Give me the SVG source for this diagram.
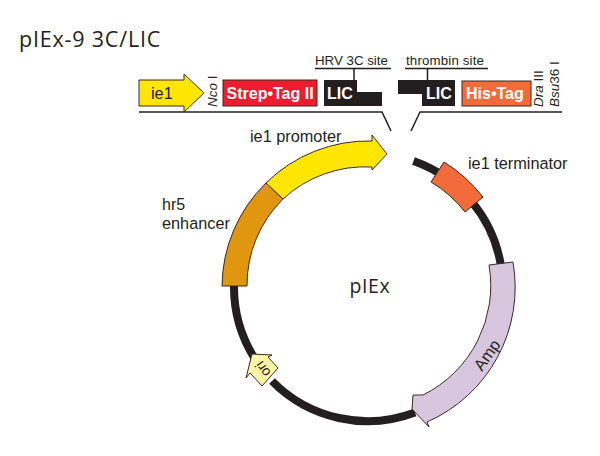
<svg xmlns="http://www.w3.org/2000/svg" width="600" height="456" viewBox="0 0 600 456">
<style>
text{font-family:"Liberation Sans",Arial,sans-serif;fill:#231f20}
.l{font-size:16.300px}
.w{font-size:16px;font-weight:bold;fill:#fff}
.it{font-size:13.500px;font-style:italic}
.s{font-size:13.300px}
.t{font-family:"Open Sans","DejaVu Sans",sans-serif}
.ln{fill:none;stroke:#231f20;stroke-width:1.5}
.b{stroke:#3a2a20;stroke-width:1}
</style>
<rect width="600" height="456" fill="#fff"/>
<text class="t" x="19" y="47" font-size="21.500" letter-spacing=".8">pIEx-9 3C/LIC</text>
<g id="connectors">
<path class="ln" d="M139 112H382L391 131M562 112H420L411 131"/>
<path class="ln" d="M315 68.500H391M405 68.500H488M354 68V81M427.500 68V81"/>
<path id="backbone" d="M234 286A134 134 0 0 0 255 359M272 381A134 134 0 0 0 415 412.500M413.500 161A134 134 0 0 1 501 266" fill="none" stroke="#231f20" stroke-width="8"/>
</g>
<g id="ie1-box"><path class="b" d="M139 80H184V74L204 93L184 112V106H139Z" fill="#ffe600"/><text class="l" x="151" y="99">ie1</text></g>
<g id="nco"><text class="it" transform="translate(217 107) rotate(-90)"><tspan>Nco</tspan> <tspan font-style="normal">I</tspan></text></g>
<g id="strep"><rect class="b" x="223" y="80" width="94" height="26" fill="#ed1c2e"/><text class="w" x="226.500" y="99">Strep•Tag II</text></g>
<g id="lic1"><path d="M324 80H357V92H382V106H324Z" fill="#231f20"/><text class="w" x="327" y="99">LIC</text></g>
<g id="hrv"><text class="s" x="315" y="65">HRV 3C site</text></g>
<g id="thrombin"><text class="s" x="406" y="65" letter-spacing=".15">thrombin site</text></g>
<g id="lic2"><path d="M398 80H455V106H422V94H398Z" fill="#231f20"/><text class="w" x="426" y="99">LIC</text></g>
<g id="his"><rect class="b" x="462" y="81" width="69" height="25" fill="#f26b3a"/><text class="w" x="466" y="99">His•Tag</text></g>
<g id="dra"><text class="it" transform="translate(543 107) rotate(-90)"><tspan>Dra</tspan> <tspan font-style="normal">III</tspan></text></g>
<g id="bsu"><text class="it" transform="translate(559 107) rotate(-90)"><tspan>Bsu</tspan><tspan font-style="normal">36 I</tspan></text></g>
<g id="enhancer"><path class="b" d="M222 286A146 146 0 0 1 266 183L283 199A121 121 0 0 0 247 286Z" fill="#e0960f"/><text x="162" y="210" font-size="16">hr5</text><text x="162" y="229" font-size="16.300">enhancer</text></g>
<g id="promoter"><path class="b" d="M266 183A146 146 0 0 1 372 141V135L387 154L372 170V167A121 121 0 0 0 283 199Z" fill="#ffe600"/><text class="l" x="250" y="142">ie1 promoter</text></g>
<g id="terminator"><path class="b" d="M444 162A150 150 0 0 1 483 197L465 212A122 122 0 0 0 431 182Z" fill="#f26b3a"/><text class="l" x="468" y="169">ie1 terminator</text></g>
<g id="amp"><path class="b" d="M489 265L513 262A147 147 0 0 1 427 422L429 427L412 409L413 395L423 395A122 122 0 0 0 489 265Z" fill="#d7c6de"/><text class="l" transform="translate(482 372) rotate(-55)">Amp</text></g>
<g id="ori"><path class="b" d="M252 354L272 355L268 357L278 368L262 386L250 373L246 378Z" fill="#fdf5a6"/><text font-size="14" text-anchor="middle" y="4.500" transform="translate(263 369) rotate(235)">ori</text></g>
<g id="plasmid"><text class="t" x="349.500" y="293" font-size="19.500" letter-spacing=".6">pIEx</text></g>
</svg>
